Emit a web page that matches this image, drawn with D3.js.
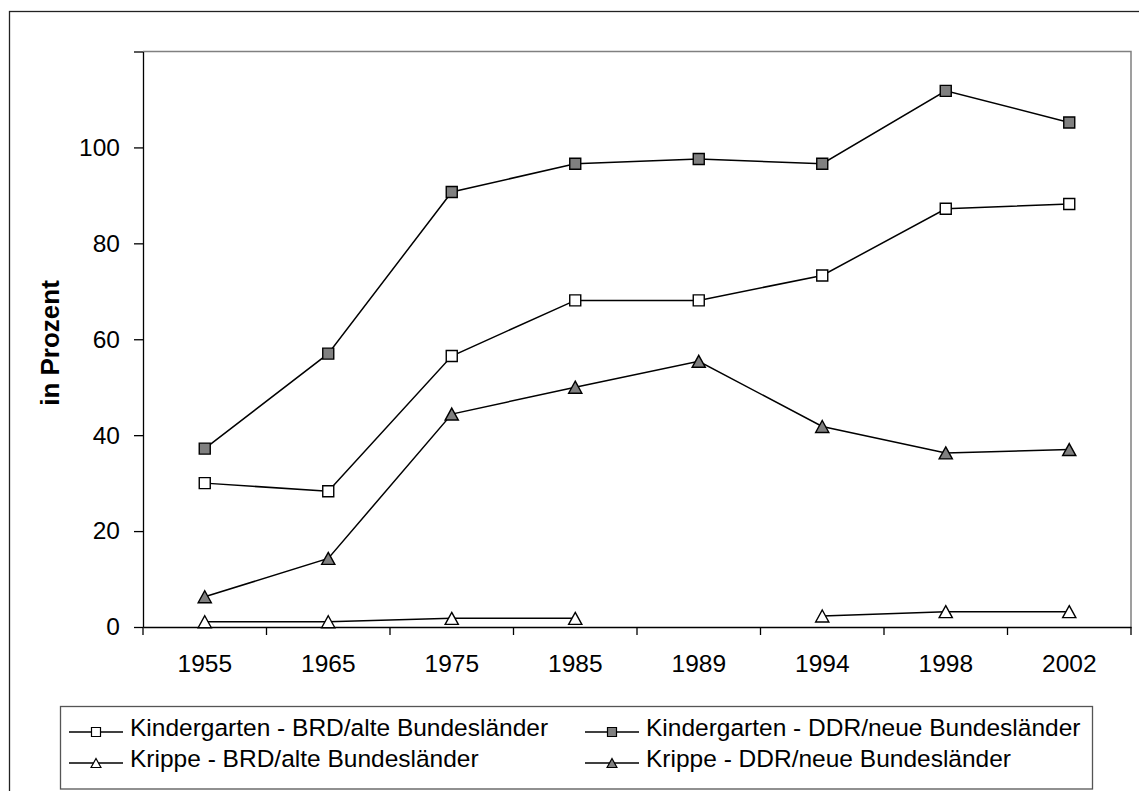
<!DOCTYPE html>
<html>
<head>
<meta charset="utf-8">
<script src="https://cdn.jsdelivr.net/npm/d3@7"></script>
<style>
  body { margin: 0; background: #fff; }
  svg { display: block; font-family: "Liberation Sans", Arial, sans-serif; }
</style>
</head>
<body>
<svg width="1139" height="791"></svg>
<script>
var years = ["1955", "1965", "1975", "1985", "1989", "1994", "1998", "2002"];
var kigaWest = [30, 28.3, 56.5, 68.1, 68.1, 73.3, 87.2, 88.2];
var kigaOst = [37.2, 57, 90.7, 96.6, 97.6, 96.6, 111.8, 105.2];
var krippeWest = [1.1, 1.1, 1.8, 1.8, null, 2.3, 3.2, 3.2];
var krippeOst = [6.3, 14.3, 44.4, 50, 55.4, 41.8, 36.3, 37];
var yTicks = [0, 20, 40, 60, 80, 100, 120];
var yLabel = "in Prozent";

var labelKigaWest = "Kindergarten - BRD/alte Bundesländer";
var labelKigaOst = "Kindergarten - DDR/neue Bundesländer";
var labelKrippeWest = "Krippe - BRD/alte Bundesländer";
var labelKrippeOst = "Krippe - DDR/neue Bundesländer";

var series = [
    { name: labelKigaWest, values: kigaWest, shape: "square", fill: "#fff" },
    { name: labelKigaOst, values: kigaOst, shape: "square", fill: "#808080" },
    { name: labelKrippeWest, values: krippeWest, shape: "triangle", fill: "#fff" },
    { name: labelKrippeOst, values: krippeOst, shape: "triangle", fill: "#808080" }
];

var svg = d3.select("svg");
var fontSize = 24.5;

var plotLeft = 143, plotRight = 1131, plotTop = 51.5, plotBottom = 627;

var x = d3.scaleBand().domain(years).range([plotLeft, plotRight]).padding(0);
var y = d3.scaleLinear().domain([0, 120]).range([plotBottom, plotTop]);

//Outer frame (right and bottom sides fall outside the picture)
svg.append("rect")
    .attr("x", 9.5).attr("y", 11.5)
    .attr("width", 1140).attr("height", 790)
    .attr("fill", "none").attr("stroke", "#222").attr("stroke-width", 1.3);

//Plot area border (top and right, gray)
svg.append("path")
    .attr("d", "M" + plotLeft + "," + plotTop + "H" + plotRight + "V" + plotBottom)
    .attr("fill", "none").attr("stroke", "#808080").attr("stroke-width", 1.5);

//YAxis
var yaxis = d3.axisLeft(y)
    .tickValues(yTicks)
    .tickSize(9)
    .tickSizeOuter(0)
    .tickPadding(14)
    .tickFormat(function(d) { return d === 120 ? "" : d; });
var gy = svg.append("g").attr("transform", "translate(" + plotLeft + ",0)").call(yaxis);
gy.selectAll("path, line").attr("stroke", "#000").attr("stroke-width", 1.3);
gy.selectAll("text").attr("font-size", fontSize).attr("font-family", null).attr("fill", "#000");

//XAxis
var xaxis = d3.axisBottom(x).tickSize(0).tickSizeOuter(0).tickPadding(28);
var gx = svg.append("g").attr("transform", "translate(0," + plotBottom + ")").call(xaxis);
gx.select(".domain").attr("stroke", "#000").attr("stroke-width", 1.3);
gx.selectAll("text").attr("font-size", fontSize).attr("font-family", null).attr("fill", "#000");

//XAxis tick marks between categories
var bounds = years.map(function(d) { return x(d); }).concat([x.range()[1]]);
gx.selectAll("line.sep")
    .data(bounds)
    .enter()
    .append("line")
    .attr("class", "sep")
    .attr("x1", function(d) { return d; })
    .attr("x2", function(d) { return d; })
    .attr("y1", 0).attr("y2", 8)
    .attr("stroke", "#000").attr("stroke-width", 1.3);

//YAxis Label
svg.append("text")
    .attr("transform", "translate(59,343) rotate(-90)")
    .style("text-anchor", "middle")
    .attr("font-size", 26)
    .attr("font-weight", "bold")
    .text(yLabel);

//Markers
function markerPath(shape, size) {
    var h = size / 2;
    if (shape === "square") {
        return "M" + (-h) + "," + (-h) + "H" + h + "V" + h + "H" + (-h) + "Z";
    }
    var w = size * 0.55;
    return "M0," + (-h) + "L" + w + "," + h + "L" + (-w) + "," + h + "Z";
}

var cx = function(i) { return x(years[i]) + x.bandwidth() / 2; };

var line = d3.line()
    .defined(function(d) { return d != null; })
    .x(function(d, i) { return cx(i); })
    .y(function(d) { return y(d); });

series.forEach(function(s) {
    svg.append("path")
        .attr("d", line(s.values))
        .attr("fill", "none")
        .attr("stroke", "#000")
        .attr("stroke-width", 1.5);

    svg.selectAll(null)
        .data(s.values.map(function(v, i) { return { v: v, i: i }; }).filter(function(d) { return d.v != null; }))
        .enter()
        .append("path")
        .attr("transform", function(d) { return "translate(" + cx(d.i) + "," + y(d.v) + ")"; })
        .attr("d", markerPath(s.shape, s.shape === "square" ? 11 : 12))
        .attr("fill", s.fill)
        .attr("stroke", "#000")
        .attr("stroke-width", 1.4);
});

//Legend
svg.append("rect")
    .attr("x", 60.5).attr("y", 706.5)
    .attr("width", 1032).attr("height", 82.5)
    .attr("fill", "#fff").attr("stroke", "#555").attr("stroke-width", 1.3);

var legendCols = [69, 585];
var legendRows = [732, 763];

series.forEach(function(s, k) {
    var lx = legendCols[k % 2];
    var ly = legendRows[Math.floor(k / 2)];
    var g = svg.append("g").attr("transform", "translate(" + lx + "," + ly + ")");
    g.append("line")
        .attr("x1", 0).attr("x2", 54)
        .attr("y1", 0).attr("y2", 0)
        .attr("stroke", "#000").attr("stroke-width", 1.5);
    g.append("path")
        .attr("transform", "translate(27,0)")
        .attr("d", markerPath(s.shape, 9))
        .attr("fill", s.fill)
        .attr("stroke", "#000")
        .attr("stroke-width", 1.2);
    g.append("text")
        .attr("x", 61)
        .attr("y", 4)
        .attr("font-size", fontSize)
        .text(s.name);
});
</script>
</body>
</html>
